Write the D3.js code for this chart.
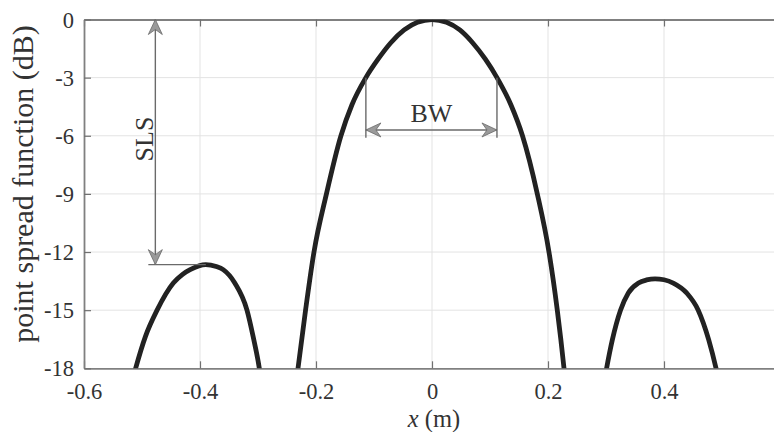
<!DOCTYPE html>
<html lang="en">
<head>
    <meta charset="UTF-8">
    <title>Point spread function</title>
    <style>
        html, body {
            margin: 0;
            padding: 0;
            background-color: #ffffff;
        }
        svg text {
            font-family: 'Liberation Serif', 'Times New Roman', serif;
        }
    </style>
</head>
<body>
    <div id="chart"></div>
    <script src="https://d3js.org/d3.v7.min.js"></script>
    <script>
        // values (x in m, psf in dB)
        const mainX  = [-0.235, -0.231, -0.218, -0.2035, -0.182, -0.157, -0.138, -0.114, -0.093, -0.071, -0.048, -0.025, 0, 0.025, 0.048, 0.07, 0.092, 0.112, 0.136, 0.156, 0.1816, 0.2017, 0.216, 0.2276, 0.231];
        const mainDb = [-19, -18, -15, -12, -9, -6, -4.4, -3, -2.05, -1.2, -0.54, -0.14, 0, -0.14, -0.54, -1.2, -2.05, -3, -4.4, -6, -9, -12, -15, -18, -19];
        const leftX  = [-0.52, -0.511, -0.494, -0.474, -0.446, -0.43, -0.417, -0.39, -0.372, -0.36, -0.34, -0.319, -0.3085, -0.2977, -0.293];
        const leftDb = [-19, -18, -16.35, -15, -13.6, -13.15, -12.91, -12.65, -12.75, -12.91, -13.6, -15, -16.35, -18, -19];
        const rightX  = [0.295, 0.301, 0.311, 0.325, 0.3385, 0.356, 0.37, 0.3845, 0.4, 0.416, 0.439, 0.459, 0.477, 0.4897, 0.497];
        const rightDb = [-19, -18, -16.52, -15, -14.11, -13.6, -13.44, -13.38, -13.43, -13.6, -14.11, -15, -16.52, -18, -19];

        const xTicks = [-0.6, -0.4, -0.2, 0, 0.2, 0.4];
        const yTicks = [0, -3, -6, -9, -12, -15, -18];

        // annotations: side lobe level arrow and -3 dB beam width arrow
        const slsX = -0.477;
        const slsDb = [0, -12.65];
        const slsPeakX = -0.39;
        const bwX = [-0.114, 0.112];
        const bwDb = -5.7;
        const bwLineDb = [-3, -6.1];

        const W = 774, H = 432;
        const plot = {left: 84, top: 19.5, bottom: 368.3, right: 780};

        const x = d3.scaleLinear().domain([-0.6, 0.6]).range([plot.left, plot.right]);
        const y = d3.scaleLinear().domain([-18, 0]).range([plot.bottom, plot.top]);

        const svg = d3.select("#chart")
            .append("svg")
            .attr("width", W)
            .attr("height", H);

        const defs = svg.append("defs");
        defs.append("clipPath")
            .attr("id", "clip")
            .append("rect")
            .attr("x", plot.left)
            .attr("y", plot.top)
            .attr("width", plot.right - plot.left)
            .attr("height", plot.bottom - plot.top);

        defs.append("marker")
            .attr("id", "head")
            .attr("viewBox", "-16 -8 17 16")
            .attr("markerUnits", "userSpaceOnUse")
            .attr("markerWidth", 17)
            .attr("markerHeight", 16)
            .attr("refX", 0)
            .attr("refY", 0)
            .attr("orient", "auto-start-reverse")
            .append("path")
            .attr("d", "M0,0 L-15,-7 L-10,0 L-15,7 Z")
            .style("fill", "#9a9a9a")
            .style("stroke", "#6a6a6a")
            .style("stroke-width", 0.8);

        // GRID
        svg.append("g")
            .selectAll("line")
            .data(xTicks.filter(d => d > -0.6)).enter()
            .append("line")
            .attr("x1", d => x(d)).attr("x2", d => x(d))
            .attr("y1", plot.top).attr("y2", plot.bottom)
            .style("stroke", "#e3e3e3")
            .style("stroke-width", 1);
        svg.append("g")
            .selectAll("line")
            .data(yTicks.filter(d => d > -18 && d < 0)).enter()
            .append("line")
            .attr("x1", plot.left).attr("x2", plot.right)
            .attr("y1", d => y(d)).attr("y2", d => y(d))
            .style("stroke", "#e3e3e3")
            .style("stroke-width", 1);

        // AXES (labels use a plain hyphen like the original)
        const fmt = d => String(d);
        const xAxis = d3.axisBottom(x).tickValues(xTicks).tickSizeInner(-7).tickSizeOuter(0).tickFormat(fmt);
        const xTop = d3.axisTop(x).tickValues(xTicks).tickSizeInner(-7).tickSizeOuter(0).tickFormat("");
        const yAxis = d3.axisLeft(y).tickValues(yTicks).tickSizeInner(-7).tickSizeOuter(0).tickFormat(fmt);

        const gx = svg.append("g").attr("transform", `translate(0, ${plot.bottom})`).call(xAxis);
        const gt = svg.append("g").attr("transform", `translate(0, ${plot.top})`).call(xTop);
        const gy = svg.append("g").attr("transform", `translate(${plot.left}, 0)`).call(yAxis);

        [gx, gt, gy].forEach(g => {
            g.select(".domain").style("stroke", "#808080").style("stroke-width", 1.8);
            g.selectAll(".tick line").style("stroke", "#707070").style("stroke-width", 1.2);
            g.selectAll(".tick text")
                .style("font-family", "'Liberation Serif', serif")
                .style("font-size", "22.5px")
                .style("fill", "#333333");
        });
        gx.selectAll(".tick text").attr("dy", null).attr("y", 31);
        gy.selectAll(".tick text").attr("x", -10).attr("dy", "0.34em");

        // CURVES
        const line = d3.line()
            .x(d => x(d[0]))
            .y(d => y(d[1]))
            .curve(d3.curveMonotoneX);

        const lobes = [
            d3.zip(leftX, leftDb),
            d3.zip(mainX, mainDb),
            d3.zip(rightX, rightDb)
        ];

        svg.append("g")
            .attr("clip-path", "url(#clip)")
            .selectAll("path")
            .data(lobes).enter()
            .append("path")
            .attr("d", line)
            .style("fill", "none")
            .style("stroke", "#222222")
            .style("stroke-width", 4.8)
            .style("stroke-linejoin", "round");

        // SLS ANNOTATION
        const ann = svg.append("g").style("stroke", "#6a6a6a").style("stroke-width", 1.4);
        ann.append("line")
            .attr("x1", x(slsX) - 7).attr("x2", x(slsPeakX))
            .attr("y1", y(slsDb[1])).attr("y2", y(slsDb[1]));
        ann.append("line")
            .attr("x1", x(slsX)).attr("x2", x(slsX))
            .attr("y1", y(slsDb[0])).attr("y2", y(slsDb[1]))
            .attr("marker-start", "url(#head)")
            .attr("marker-end", "url(#head)");

        // BW ANNOTATION
        bwX.forEach(v => {
            ann.append("line")
                .attr("x1", x(v)).attr("x2", x(v))
                .attr("y1", y(bwLineDb[0])).attr("y2", y(bwLineDb[1]));
        });
        ann.append("line")
            .attr("x1", x(bwX[0])).attr("x2", x(bwX[1]))
            .attr("y1", y(bwDb)).attr("y2", y(bwDb))
            .attr("marker-start", "url(#head)")
            .attr("marker-end", "url(#head)");

        svg.append("text")
            .attr("x", (x(bwX[0]) + x(bwX[1])) / 2)
            .attr("y", y(bwDb) - 8)
            .attr("text-anchor", "middle")
            .style("font-size", "26px")
            .style("fill", "#333333")
            .text("BW");

        svg.append("text")
            .attr("transform", `translate(${x(slsX) - 2}, 139) rotate(-90)`)
            .attr("text-anchor", "middle")
            .style("font-size", "26px")
            .style("fill", "#333333")
            .text("SLS");

        // AXIS LABELS
        const xl = svg.append("text")
            .attr("x", 434)
            .attr("y", 426.5)
            .attr("text-anchor", "middle")
            .style("font-size", "24.5px")
            .style("fill", "#333333");
        xl.append("tspan").style("font-style", "italic").text("x");
        xl.append("tspan").text(" (m)");

        svg.append("text")
            .attr("transform", `translate(33, 184) rotate(-90)`)
            .attr("text-anchor", "middle")
            .style("font-size", "30px")
            .style("fill", "#333333")
            .text("point spread function (dB)");
    </script>
</body>
</html>
